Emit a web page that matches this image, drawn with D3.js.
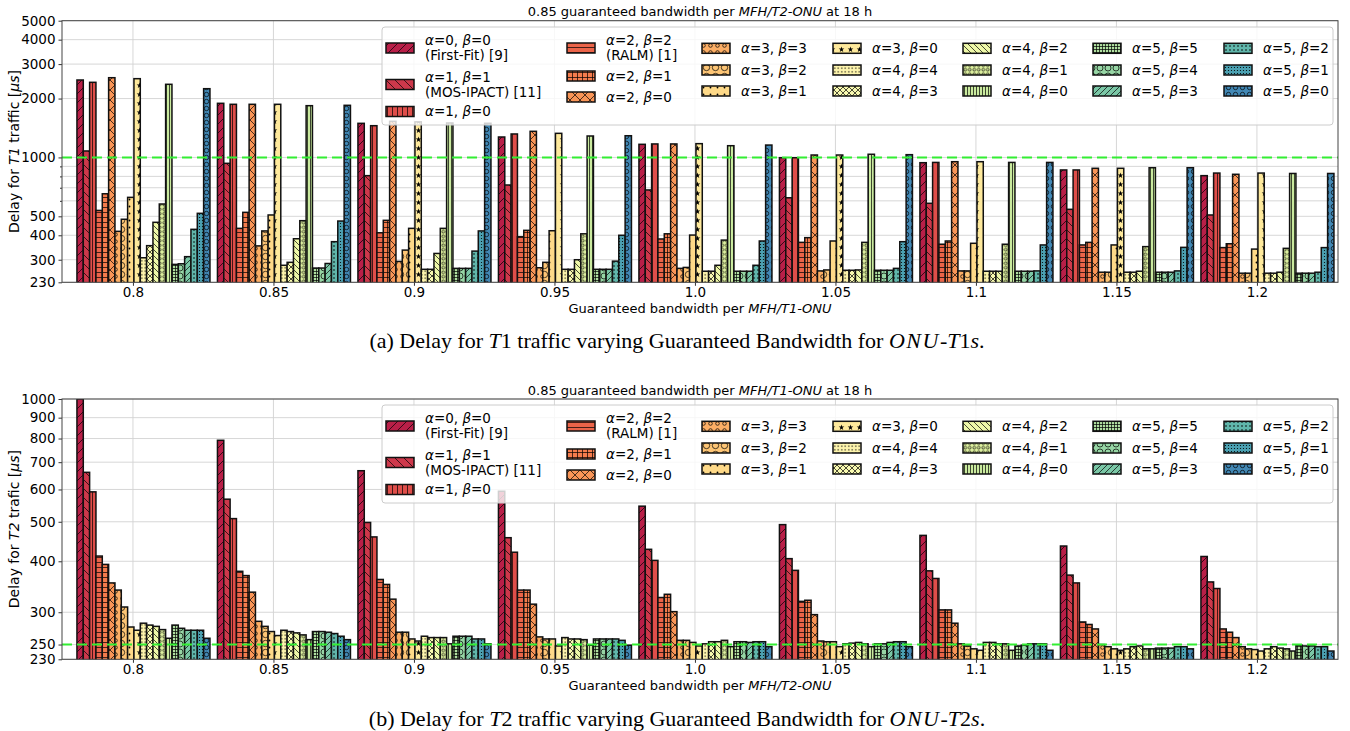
<!DOCTYPE html>
<html><head><meta charset="utf-8">
<script src="https://cdn.jsdelivr.net/npm/d3@7"></script>
<style>
body{margin:0;background:#fff}
svg{display:block}
text{font-family:"DejaVu Sans",sans-serif;fill:#000}
</style>
</head><body>
<svg id="c" width="1350" height="731"></svg>
<script>
// ---------------- data ----------------
const categories = ["0.8","0.85","0.9","0.95","1.0","1.05","1.1","1.15","1.2"];
const seriesAlpha = [0,1,1,2,2,2,3,3,3,3,4,4,4,4,4,5,5,5,5,5,5];
const seriesBeta  = [0,1,0,2,1,0,3,2,1,0,4,3,2,1,0,5,4,3,2,1,0];
const seriesNote  = ["(First-Fit) [9]","(MOS-IPACT) [11]","","(RALM) [1]","","","","","","","","","","","","","","","","",""];

// Delay for T1 traffic [µs], one row per guaranteed-bandwidth category, one column per series
const t1Delay = [
  [2488,1079,2421,536,652,2556,419,483,625,2527,307,354,466,578,2365,284,286,311,429,518,2246],
  [1891,933,1869,434,524,1869,353,421,508,1869,281,291,384,475,1839,272,272,287,371,473,1847],
  [1494,807,1453,412,477,1530,294,336,434,1520,268,268,323,434,1500,271,271,271,332,421,1495],
  [1272,723,1318,393,424,1360,273,291,422,1328,268,268,300,407,1287,268,268,268,295,400,1291],
  [1167,682,1172,383,407,1172,271,274,401,1176,262,262,281,378,1148,262,262,262,281,374,1157],
  [997,622,997,368,389,1029,263,266,374,1029,265,265,266,368,1038,265,265,265,271,371,1033],
  [940,583,943,360,374,951,263,263,364,951,262,262,262,360,943,262,262,262,263,357,943],
  [863,543,863,357,368,880,259,259,357,880,259,259,262,350,886,259,259,259,263,347,886],
  [807,508,832,346,362,820,256,256,340,832,256,256,259,343,828,256,256,256,259,346,828]
];
// Delay for T2 traffic [µs]
const t2Delay = [
  [1000,661,592,412,393,354,340,309,276,271,282,279,277,272,259,279,274,271,271,271,259],
  [792,568,509,378,369,336,285,277,269,263,271,269,267,264,257,269,269,268,266,262,257],
  [667,498,459,361,351,323,268,268,258,255,262,260,260,260,251,262,262,262,258,258,251],
  [594,457,421,340,340,314,261,258,258,248,260,258,258,257,249,258,258,258,258,256,249],
  [546,428,402,326,332,301,256,256,253,248,251,254,254,256,247,254,254,253,254,254,247],
  [492,406,380,319,321,296,255,254,254,247,251,252,253,251,247,251,251,253,254,254,247],
  [463,379,363,304,304,282,251,248,244,242,253,253,251,251,242,248,249,251,251,251,242],
  [436,370,354,284,280,273,250,247,244,242,244,247,248,244,244,245,245,245,247,247,244],
  [411,356,343,273,268,260,247,244,243,241,244,247,245,244,241,249,248,248,247,247,241]
];
const t1Ticks = [230,300,400,500,1000,2000,3000,4000,5000];
const t1Minor = [600,700,800,900];
const t2Ticks = [230,250,300,400,500,600,700,800,900,1000];
const t2Minor = [];
const t1Target = 1000;
const t2Target = 250;

// ---------------- styling ----------------
const svg = d3.select('#c');
const defs = svg.append('defs');
const colors = d3.range(21).map(i => d3.interpolateSpectral(0.05 + i * 0.0425));
const hatchSpec = [
  ['diag',9],['back',9],['vert',5],['horiz',5],['grid',5],['cross',10],
  ['circle',7,1.8],['circle',9,3.2],['dot',7,0.9],['star',9],
  ['dot',3.5,0.7],['cross',6],['back',6],['circle',4.5,1.4],['vert',3],
  ['grid',3],['circle',8,3],['diag',6],['dot',4,0.8],['dot',3,0.6],['circle',7,2.2]
];
function makePattern(i){
  const [type,s,r] = hatchSpec[i];
  const p = defs.append('pattern').attr('id','h'+i).attr('patternUnits','userSpaceOnUse')
    .attr('width',s).attr('height',s);
  p.append('rect').attr('width',s).attr('height',s).attr('fill',colors[i]);
  const g = p.append('g').attr('stroke','#000').attr('stroke-width',0.7).attr('fill','none');
  const diag = `M${-s/2},${s/2}L${s/2},${-s/2}M0,${s}L${s},0M${s/2},${s*1.5}L${s*1.5},${s/2}`;
  const back = `M${-s/2},${s/2}L${s/2},${s*1.5}M0,0L${s},${s}M${s/2},${-s/2}L${s*1.5},${s/2}`;
  if(type==='diag') g.append('path').attr('d',diag);
  if(type==='back') g.append('path').attr('d',back);
  if(type==='cross') g.append('path').attr('d',diag+back);
  if(type==='vert'||type==='grid') g.append('path').attr('d',`M${s/2},0V${s}`);
  if(type==='horiz'||type==='grid') g.append('path').attr('d',`M0,${s/2}H${s}`);
  if(type==='circle') g.append('circle').attr('cx',s/2).attr('cy',s/2).attr('r',r);
  if(type==='dot') g.append('circle').attr('cx',s/2).attr('cy',s/2).attr('r',r).attr('fill','#000').attr('stroke','none');
  if(type==='star') g.append('path').attr('transform',`translate(${s/2},${s/2})`)
    .attr('d',d3.symbol(d3.symbolStar).size(10)()).attr('fill','#000').attr('stroke','none');
}
d3.range(21).forEach(makePattern);

const x = d3.scaleLinear().domain([-0.505, 8.577]).range([62, 1338]);
const inner = d3.scaleBand().domain(d3.range(21)).range([-0.3986, 0.5481]);

function addParts(sel, parts){
  parts.forEach(([t,it,ls]) => {
    const ts = sel.append('tspan').text(t);
    if(it) ts.attr('font-style','italic');
    if(ls) ts.attr('letter-spacing',ls);
  });
}

const charts = [
  {values:t1Delay, yTop:20.7, yBot:282.3, domain:[230,5000], ticks:t1Ticks, minor:t1Minor, target:t1Target,
   title:[["0.85 guaranteed bandwidth per "],["MFH/T2-ONU",1],[" at 18 h"]],
   ylabel:[["Delay for "],["T1",1],[" traffic ["],["μs",1],["]"]],
   xlabel:[["Guaranteed bandwidth per "],["MFH/T1-ONU",1]],
   caption:[["(a) Delay for "],["T",1],["1 traffic varying Guaranteed Bandwidth for "],["ONU",1,1.5],["-"],["T",1],["1"],["s",1],["."]],
   legendTop:27, captionY:348, id:'a'},
  {values:t2Delay, yTop:399, yBot:659.3, domain:[230,1000], ticks:t2Ticks, minor:t2Minor, target:t2Target,
   title:[["0.85 guaranteed bandwidth per "],["MFH/T1-ONU",1],[" at 18 h"]],
   ylabel:[["Delay for "],["T2",1],[" trafic ["],["μs",1],["]"]],
   xlabel:[["Guaranteed bandwidth per "],["MFH/T2-ONU",1]],
   caption:[["(b) Delay for "],["T",1],["2 traffic varying Guaranteed Bandwidth for "],["ONU",1,1.5],["-"],["T",1],["2"],["s",1],["."]],
   legendTop:405, captionY:726, id:'b'}
];

charts.forEach(cfg => {
  const y = d3.scaleLog().domain(cfg.domain).range([cfg.yBot, cfg.yTop]);
  const g = svg.append('g');
  const x0 = x.range()[0], x1 = x.range()[1];
  defs.append('clipPath').attr('id','clip'+cfg.id).append('rect')
    .attr('x',x0).attr('y',cfg.yTop).attr('width',x1-x0).attr('height',cfg.yBot-cfg.yTop);

  // grid
  const gridVals = cfg.ticks.concat(cfg.minor);
  g.append('g').selectAll('line').data(gridVals).join('line')
    .attr('x1',x0).attr('x2',x1).attr('y1',d=>y(d)).attr('y2',d=>y(d))
    .attr('stroke','#d2d2d2').attr('stroke-width',0.9);
  g.append('g').selectAll('line').data(d3.range(categories.length)).join('line')
    .attr('x1',d=>x(d)).attr('x2',d=>x(d)).attr('y1',cfg.yTop).attr('y2',cfg.yBot)
    .attr('stroke','#d2d2d2').attr('stroke-width',0.9);

  // bars
  const bw = x(inner.bandwidth()) - x(0);
  const bars = g.append('g').attr('clip-path',`url(#clip${cfg.id})`);
  cfg.values.forEach((row, gi) => {
    bars.append('g').selectAll('rect').data(row).join('rect')
      .attr('x',(d,i)=>x(gi + inner(i)))
      .attr('width',bw)
      .attr('y',d=>y(d))
      .attr('height',d=>cfg.yBot - y(d) + 2)
      .attr('fill',(d,i)=>`url(#h${i})`)
      .attr('stroke','#111').attr('stroke-width',1.5);
  });

  // target line
  g.append('line').attr('x1',x0).attr('x2',x1).attr('y1',y(cfg.target)).attr('y2',y(cfg.target))
    .attr('stroke','#33ee33').attr('stroke-width',2).attr('stroke-dasharray','10,5');

  // axes
  const ya = g.append('g').attr('transform',`translate(${x0},0)`)
    .call(d3.axisLeft(y).tickValues(cfg.ticks).tickFormat(d3.format('d')).tickSize(3.5).tickPadding(3));
  const ym = g.append('g').attr('transform',`translate(${x0},0)`)
    .call(d3.axisLeft(y).tickValues(cfg.minor).tickFormat('').tickSize(2));
  const xa = g.append('g').attr('transform',`translate(0,${cfg.yBot})`)
    .call(d3.axisBottom(x).tickValues(d3.range(categories.length)).tickFormat(i=>categories[i]).tickSize(3.5).tickPadding(1.5));
  [ya,ym,xa].forEach(a => {
    a.select('.domain').remove();
    a.selectAll('text').attr('font-size',13.5).attr('font-family','DejaVu Sans').attr('fill','#000');
    a.selectAll('line').attr('stroke','#333');
  });

  // frame
  g.append('rect').attr('x',x0).attr('y',cfg.yTop).attr('width',x1-x0).attr('height',cfg.yBot-cfg.yTop)
    .attr('fill','none').attr('stroke','#444').attr('stroke-width',1);

  // titles
  addParts(g.append('text').attr('x',(x0+x1)/2).attr('y',cfg.yTop-4.5).attr('text-anchor','middle').attr('font-size',13), cfg.title);
  addParts(g.append('text').attr('x',(x0+x1)/2).attr('y',cfg.yBot+31).attr('text-anchor','middle').attr('font-size',13), cfg.xlabel);
  addParts(g.append('text').attr('transform',`translate(19,${(cfg.yTop+cfg.yBot)/2}) rotate(-90)`)
    .attr('text-anchor','middle').attr('font-size',14), cfg.ylabel);
  addParts(g.append('text').attr('x',677).attr('y',cfg.captionY).attr('text-anchor','middle')
    .attr('font-size',22).style('font-family','"Liberation Serif",serif'), cfg.caption);

  // legend
  const lt = cfg.legendTop, ll = 382;
  const lg = g.append('g');
  lg.append('rect').attr('x',ll).attr('y',lt).attr('width',951).attr('height',98).attr('rx',3)
    .attr('fill','#fff').attr('fill-opacity',0.8).attr('stroke','#cccccc').attr('stroke-width',1);
  const colX = [4,185,320,451,581,711,842];
  const rowY = [[21,57.5,84.5],[21,49,70],[21.3,43,64],[21.3,43,64],[21.3,43,64],[21.3,43,64],[21.3,43,64]];
  d3.range(21).forEach(i => {
    const c = Math.floor(i/3), r = i%3;
    const sx = ll + colX[c], cy = lt + rowY[c][r];
    lg.append('rect').attr('x',sx).attr('y',cy-5).attr('width',28).attr('height',10)
      .attr('fill',`url(#h${i})`).attr('stroke','#111').attr('stroke-width',1.5);
    const tx = sx + 39;
    const two = seriesNote[i] !== '';
    const t = lg.append('text').attr('x',tx).attr('y',two ? cy-7.5 : cy).attr('dy','0.35em').attr('font-size',13.5);
    addParts(t, [["α",1],[`=${seriesAlpha[i]}, `],["β",1],[`=${seriesBeta[i]}`]]);
    if(two) lg.append('text').attr('x',tx).attr('y',cy+7.5).attr('dy','0.35em').attr('font-size',13.5).text(seriesNote[i]);
  });
});
</script>
</body></html>
